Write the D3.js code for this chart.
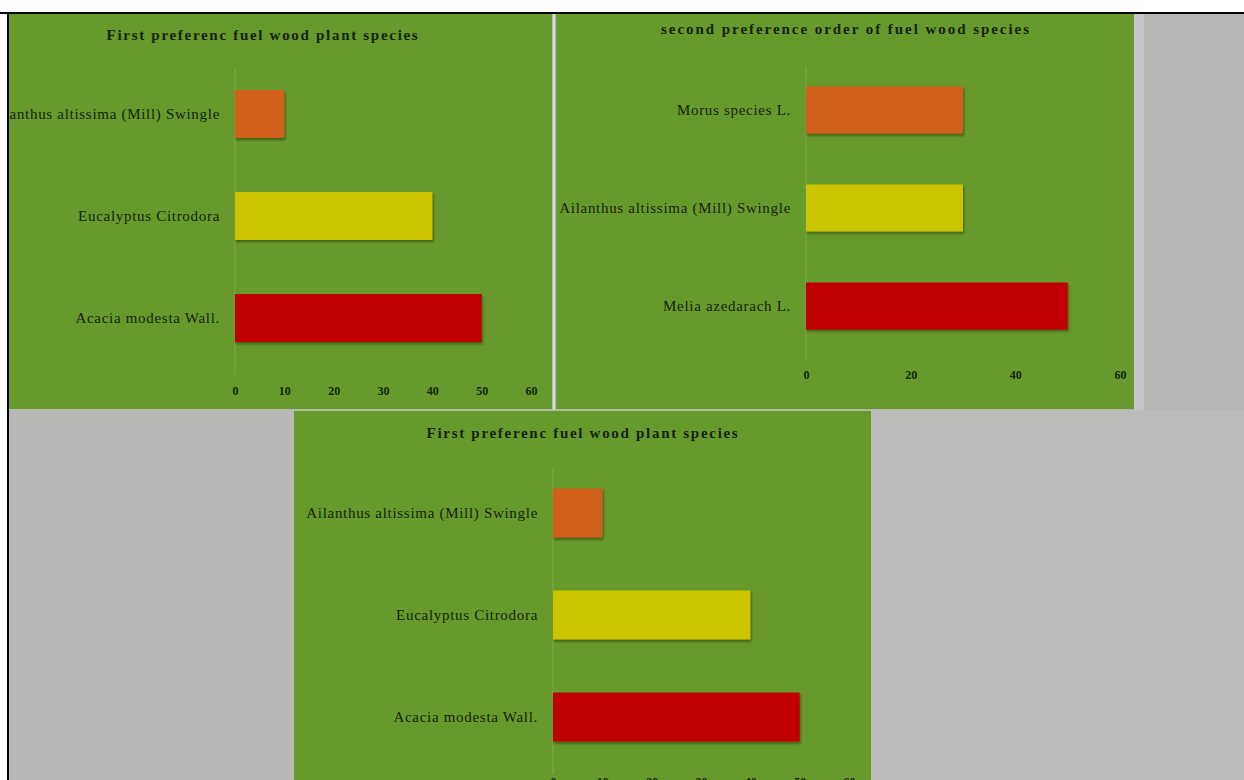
<!DOCTYPE html>
<html>
<head>
<meta charset="utf-8">
<script src="https://cdn.jsdelivr.net/npm/d3@7"></script>
<style>
  body { margin: 0; background: #ffffff; }
  svg { display: block; }
  .tick text { fill: #16230c; }
</style>
</head>
<body>
<div id="chart"></div>
<script>
// chart values
var firstCategories = ["Ailanthus altissima (Mill) Swingle", "Eucalyptus Citrodora", "Acacia modesta Wall."];
var firstValues = [10, 40, 50];
var firstTicks = [0, 10, 20, 30, 40, 50, 60];

var secondCategories = ["Morus species L.", "Ailanthus altissima (Mill) Swingle", "Melia azedarach L."];
var secondValues = [30, 30, 50];
var secondTicks = [0, 20, 40, 60];

var firstTitle = "First preferenc fuel wood plant species";
var secondTitle = "second preference order of fuel wood species";

var barColors = ["#d0601f", "#cdc400", "#c00000"];

var W = 1244, H = 780;
var green = "#67992c";

var svg = d3.select("#chart")
  .append("svg")
    .attr("width", W)
    .attr("height", H);

var defs = svg.append("defs");
defs.append("filter")
    .attr("id", "shadow")
    .attr("x", "-10%").attr("y", "-20%")
    .attr("width", "130%").attr("height", "150%")
  .append("feDropShadow")
    .attr("dx", 1).attr("dy", 2)
    .attr("stdDeviation", 1.2)
    .attr("flood-color", "#1a1a00")
    .attr("flood-opacity", 0.45);

// page: white margin, black frame line, grey backdrop
svg.append("rect").attr("x", 9).attr("y", 14).attr("width", W - 9).attr("height", H - 14).attr("fill", "#b8b8b6");
svg.append("rect").attr("x", 871).attr("y", 410).attr("width", W - 871).attr("height", H - 410).attr("fill", "#bcbcba");
svg.append("rect").attr("x", 1134).attr("y", 14).attr("width", 10).attr("height", 396).attr("fill", "#c6c5c9");
svg.append("line").attr("x1", 0).attr("x2", W).attr("y1", 13).attr("y2", 13).attr("stroke", "#000").attr("stroke-width", 2);
svg.append("line").attr("x1", 8).attr("x2", 8).attr("y1", 12).attr("y2", H).attr("stroke", "#000").attr("stroke-width", 2);

var panels = [
  { id: "p1", x: 9, y: 14, w: 543, h: 395,
    x0: 235, x60: 531, band: [63, 369], pad: 0.53, tickPad: 17,
    titleX: 263, titleY: 37, titleSize: 15, titleSpacing: 1.7,
    labelSize: 15, labelSpacing: 0.7, labelPad: 15,
    cats: firstCategories, vals: firstValues, ticks: firstTicks, title: firstTitle },
  { id: "p2", x: 556, y: 14, w: 578, h: 395,
    x0: 806, x60: 1120, band: [61, 355], pad: 0.52, tickPad: 15,
    titleX: 846, titleY: 31, titleSize: 15, titleSpacing: 1.95,
    labelSize: 15, labelSpacing: 0.7, labelPad: 15,
    cats: secondCategories, vals: secondValues, ticks: secondTicks, title: secondTitle },
  { id: "p3", x: 294, y: 411, w: 577, h: 369,
    x0: 553, x60: 849, band: [462, 768], pad: 0.52, tickPad: 9,
    titleX: 583, titleY: 435, titleSize: 15, titleSpacing: 1.7,
    labelSize: 15, labelSpacing: 0.7, labelPad: 15,
    cats: firstCategories, vals: firstValues, ticks: firstTicks, title: firstTitle }
];

panels.forEach(function(p) {
  defs.append("clipPath").attr("id", "clip-" + p.id)
    .append("rect").attr("x", p.x).attr("y", p.y).attr("width", p.w).attr("height", p.h);

  var g = svg.append("g").attr("clip-path", "url(#clip-" + p.id + ")");

  g.append("rect")
    .attr("x", p.x).attr("y", p.y)
    .attr("width", p.w).attr("height", p.h)
    .attr("fill", green);

  var x = d3.scaleLinear()
    .domain([0, 60])
    .range([p.x0, p.x60]);

  var y = d3.scaleBand()
    .domain(p.cats)
    .range(p.band)
    .paddingInner(p.pad)
    .paddingOuter(p.pad / 2);

  // faint vertical axis line
  g.append("line")
    .attr("x1", x(0)).attr("x2", x(0))
    .attr("y1", p.band[0] + 6).attr("y2", p.band[1] + 6)
    .attr("stroke", "#8fb65e").attr("stroke-width", 1).attr("opacity", 0.6);

  // category labels
  var yAxis = g.append("g")
    .attr("transform", "translate(" + x(0) + ",0)")
    .call(d3.axisLeft(y).tickSize(0).tickPadding(p.labelPad));
  yAxis.select(".domain").remove();
  yAxis.selectAll("text")
    .style("font-family", "'Liberation Serif', 'Times New Roman', serif")
    .style("font-size", p.labelSize + "px")
    .style("letter-spacing", p.labelSpacing + "px");

  // value axis
  var xAxis = g.append("g")
    .attr("transform", "translate(0," + p.band[1] + ")")
    .call(d3.axisBottom(x).tickValues(p.ticks).tickSize(0).tickPadding(p.tickPad));
  xAxis.select(".domain").remove();
  xAxis.selectAll("text")
    .style("font-family", "'Liberation Serif', 'Times New Roman', serif")
    .style("font-size", "12px")
    .style("font-weight", "bold");

  // bars
  g.selectAll(".bar")
    .data(p.vals)
    .enter()
    .append("rect")
      .attr("class", "bar")
      .attr("x", x(0))
      .attr("y", function(d, i) { return y(p.cats[i]); })
      .attr("width", function(d) { return x(d) - x(0); })
      .attr("height", y.bandwidth())
      .attr("fill", function(d, i) { return barColors[i]; })
      .attr("filter", "url(#shadow)");

  g.append("text")
    .attr("x", p.titleX)
    .attr("y", p.titleY)
    .attr("text-anchor", "middle")
    .attr("dominant-baseline", "middle")
    .style("font-family", "'Liberation Serif', 'Times New Roman', serif")
    .style("font-size", p.titleSize + "px")
    .style("font-weight", "bold")
    .style("letter-spacing", p.titleSpacing + "px")
    .style("fill", "#16230c")
    .text(p.title);
});

// light seams between the pasted panels
svg.append("line").attr("x1", 554).attr("x2", 554).attr("y1", 14).attr("y2", 410)
  .attr("stroke", "#d6dccf").attr("stroke-width", 2);
svg.append("line").attr("x1", 294).attr("x2", 871).attr("y1", 410).attr("y2", 410)
  .attr("stroke", "#a9c58a").attr("stroke-width", 1);
</script>
</body>
</html>
